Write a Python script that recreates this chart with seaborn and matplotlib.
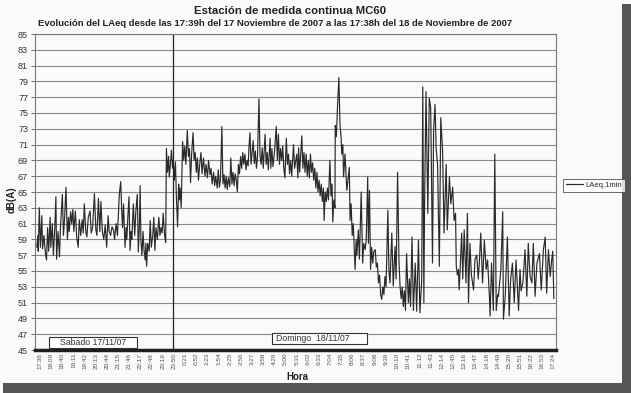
import numpy as np
import pandas as pd
import matplotlib
matplotlib.use("Agg")
import matplotlib.pyplot as plt
from matplotlib.patches import Rectangle
import seaborn as sns

# Minutos desde las 17:38 (etiqueta del primer tick) y nivel LAeq,1min
tarde_min = [-9, -6, -5, -2, 1, 5, 7, 11, 15, 18,
             21, 24, 28, 30, 34, 37, 41, 44, 46, 50,
             54, 57, 62, 65, 68, 72, 76, 79, 81, 85,
             88, 91, 94, 98, 102, 106, 109, 113, 117, 120,
             123, 127, 130, 134, 139, 142, 146, 151, 155, 158,
             162, 166, 169, 173, 177, 181, 185, 189, 192, 196,
             200, 204, 207, 211, 215, 218, 220, 224, 227, 229,
             232, 236, 239, 241, 244, 247, 250, 253, 255, 259,
             263, 266, 270, 273, 276, 278, 280, 283, 286, 289,
             292, 294, 296, 299, 303, 306, 309, 313, 316, 319,
             322, 326, 330, 333, 336, 339, 342, 346, 349]
tarde_db = [58.0, 59.5, 57.5, 63.0, 58.0, 62.0, 57.8, 59.5, 57.2, 56.4,
            60.5, 57.5, 61.8, 58.0, 61.0, 57.0, 60.5, 64.4, 56.5, 60.0,
            56.8, 60.8, 64.7, 59.5, 61.5, 65.6, 59.0, 61.8, 60.0, 62.5,
            61.0, 62.8, 60.0, 62.6, 59.2, 58.0, 61.5, 59.5, 61.5, 59.8,
            63.5, 60.0, 59.3, 61.8, 62.6, 59.8, 60.5, 64.8, 60.2, 59.5,
            64.2, 60.0, 63.8, 60.0, 59.0, 60.8, 58.0, 62.0, 60.0, 59.5,
            60.6, 60.2, 59.0, 61.0, 59.5, 62.5, 64.6, 66.3, 62.5, 60.5,
            63.5, 58.0, 60.5, 59.0, 62.0, 64.4, 57.6, 60.0, 59.0, 63.5,
            59.5, 62.5, 64.7, 57.4, 61.0, 65.8, 59.0, 57.0, 60.0, 57.5,
            56.4, 58.5, 55.6, 58.5, 57.5, 61.4, 58.0, 59.5, 61.8, 57.6,
            60.5, 59.0, 61.8, 59.5, 60.5, 59.8, 62.3, 59.5, 58.6]

noche_min = [351, 354, 357, 359, 362, 365, 368, 370, 373, 376,
             379, 382, 385, 387, 389, 392, 396, 399, 402, 405,
             409, 412, 415, 418, 421, 425, 428, 431, 434, 437,
             440, 444, 447, 450, 454, 458, 461, 465, 468, 472,
             475, 478, 482, 485, 488, 492, 495, 498, 501, 505,
             508, 511, 514, 517, 520, 523, 527, 530, 533, 536,
             539, 542, 545, 548, 551, 554, 557, 560, 563, 566,
             569, 572, 575, 578, 580, 583, 586, 589, 592, 595,
             598, 601, 604, 608, 611, 614, 617, 620, 625, 628,
             631, 634, 639, 641, 644, 647, 651, 656, 659, 662,
             665, 668, 671, 674, 677, 680, 684, 687, 690, 693,
             696, 699, 704, 707, 713, 716, 718, 721, 727, 730]
noche_db = [70.5, 67.5, 69.5, 66.9, 68.5, 70.3, 68.0, 69.0, 66.5, 68.8,
            64.0, 60.6, 66.0, 64.0, 65.5, 63.0, 71.4, 69.0, 70.8, 68.5,
            72.8, 69.5, 70.5, 66.2, 69.8, 72.5, 69.0, 70.0, 67.5, 69.3,
            66.5, 68.8, 70.0, 67.3, 69.3, 67.0, 68.5, 66.8, 69.0, 67.2,
            68.0, 66.0, 67.5, 65.8, 67.0, 65.5, 67.8, 65.6, 66.5, 73.3,
            66.0, 67.2, 65.5, 67.0, 65.3, 66.8, 65.7, 69.3, 66.0, 67.5,
            65.8, 67.3, 66.5, 65.0, 68.5, 67.3, 69.5, 68.0, 70.0, 68.5,
            69.8, 67.8, 69.0, 68.3, 70.5, 72.5, 68.5, 70.0, 71.5, 68.6,
            70.2, 68.0, 69.5, 76.8, 69.5, 68.5, 70.6, 68.0, 72.3, 68.5,
            70.0, 67.8, 71.8, 68.0, 70.5, 68.2, 70.0, 73.3, 69.0, 72.3,
            68.5, 70.5, 69.0, 70.8, 68.0, 66.8, 71.8, 68.5, 69.8, 67.3,
            69.0, 67.0, 71.0, 68.0, 69.8, 66.8, 70.6, 67.5, 72.1, 68.0]

manana_min = [733, 736, 739, 742, 745, 748, 751, 754, 757, 760,
              763, 766, 769, 772, 775, 778, 781, 784, 787, 789,
              792, 795, 798, 801, 805, 808, 811, 813, 816, 819,
              820, 823, 826, 830, 833, 836, 838, 841, 843, 847,
              852, 855, 859, 861, 864, 867, 870, 873, 875, 878,
              880, 884, 887, 892, 896, 899, 903, 906, 910, 912,
              915, 918, 921, 924, 927, 931, 934, 937, 940, 943,
              946, 949, 952, 955, 958, 961, 966, 969, 972, 977,
              981, 986, 989, 993, 997, 1000, 1003, 1006, 1009, 1012,
              1015, 1018, 1023, 1026, 1029, 1033, 1037, 1042, 1046, 1051,
              1055, 1060]
manana_db = [70.0, 67.5, 69.8, 67.0, 69.0, 66.8, 69.8, 67.5, 68.7, 66.5,
             68.0, 65.5, 67.5, 65.0, 66.5, 64.5, 66.0, 63.8, 65.5, 61.4,
             65.0, 63.8, 65.5, 64.0, 69.0, 64.5, 66.0, 61.2, 64.0, 63.0,
             73.4, 72.0, 75.6, 79.5, 73.6, 72.0, 69.8, 71.0, 66.9, 69.8,
             65.2, 66.5, 68.1, 61.4, 63.5, 59.5, 61.0, 57.5, 55.2, 59.0,
             57.0, 60.2, 56.5, 65.0, 56.0, 58.5, 57.7, 59.0, 66.9, 58.5,
             65.2, 55.2, 58.0, 56.0, 57.5, 57.7, 55.5, 56.0, 53.5, 54.5,
             52.0, 51.4, 53.0, 52.0, 54.3, 53.0, 62.7, 55.0, 53.5, 59.8,
             53.1, 58.1, 54.0, 67.5, 56.0, 53.0, 51.5, 53.0, 50.5, 52.5,
             50.0, 57.2, 51.0, 54.0, 50.5, 59.3, 50.0, 56.0, 49.9, 58.9,
             49.7, 53.8]

mediodia_min = [1063, 1066, 1068, 1072, 1077, 1081, 1085, 1090, 1093, 1097,
                1100, 1104, 1109, 1113, 1118, 1122, 1128, 1131, 1137, 1141,
                1146, 1150, 1154, 1156, 1159, 1162, 1164, 1167, 1171, 1174,
                1178, 1183, 1187, 1190, 1194, 1198, 1204, 1208, 1213, 1217,
                1220, 1224, 1229, 1234, 1239, 1243, 1248, 1250, 1254, 1259,
                1263, 1267, 1271, 1273, 1280, 1285, 1287, 1292, 1298, 1303,
                1307, 1312, 1317, 1322, 1329, 1333, 1336, 1341, 1347, 1352,
                1356, 1361, 1366, 1370, 1375, 1380, 1387, 1392, 1398, 1403,
                1407, 1412, 1417, 1421, 1424, 1427]
mediodia_db = [78.3, 51.0, 63.5, 77.7, 62.3, 76.9, 75.6, 56.0, 72.7, 76.1,
               70.6, 68.5, 55.6, 74.4, 70.2, 59.8, 68.5, 60.2, 66.9, 63.5,
               65.6, 61.4, 62.3, 55.6, 54.5, 55.2, 52.6, 55.5, 59.8, 54.0,
               60.2, 53.5, 62.3, 51.0, 58.5, 54.5, 52.6, 56.5, 57.0, 54.0,
               56.0, 59.8, 53.5, 58.9, 55.2, 56.4, 51.8, 49.3, 56.0, 50.0,
               69.8, 50.0, 52.0, 51.8, 55.2, 62.5, 48.9, 51.8, 59.3, 49.3,
               53.9, 56.0, 51.0, 56.4, 50.0, 55.2, 52.5, 53.5, 57.7, 51.8,
               58.5, 54.3, 53.5, 58.5, 51.8, 56.0, 57.2, 52.6, 57.7, 59.3,
               52.2, 57.7, 54.3, 56.4, 57.5, 51.5]

horas = ["17:38", "18:09", "18:40", "19:11", "19:42", "20:13", "20:44", "21:15",
         "21:46", "22:17", "22:48", "23:19", "23:50", "0:21", "0:52", "1:23",
         "1:54", "2:25", "2:56", "3:27", "3:58", "4:29", "5:00", "5:31", "6:02",
         "6:33", "7:04", "7:35", "8:06", "8:37", "9:08", "9:39", "10:10", "10:41",
         "11:12", "11:43", "12:14", "12:45", "13:16", "13:47", "14:18", "14:49",
         "15:20", "15:51", "16:22", "16:53", "17:24"]

df = pd.DataFrame({
    "minuto": tarde_min + noche_min + manana_min + mediodia_min,
    "LAeq,1min": tarde_db + noche_db + manana_db + mediodia_db,
})

sns.set_theme(style="white")
plt.rcParams["font.family"] = ["Liberation Sans", "DejaVu Sans"]

fig = plt.figure(figsize=(6.31, 3.93), dpi=100, facecolor="#fafafa")
ax = fig.add_axes([35 / 631, 43 / 393, 521 / 631, 316 / 393])
ax.set_facecolor("#fafafa")

sns.lineplot(data=df, x="minuto", y="LAeq,1min", ax=ax, estimator=None,
             color="#2a2a2a", linewidth=0.85, label="LAeq,1min")

# limite entre sabado y domingo
ax.axvline(368, color="#222222", linewidth=0.9)

ax.set_xlim(-14, 1433)
ax.set_ylim(45, 85)
ax.set_yticks(np.arange(45, 86, 2))
ax.set_xticks(np.arange(len(horas)) * 31)
ax.set_xticklabels(horas, rotation=90, fontsize=4.6, color="#555555")
ax.tick_params(axis="y", labelsize=6.5, labelcolor="#333333", length=3,
               width=0.6, color="#555555", left=True, pad=2)
ax.tick_params(axis="x", length=0, pad=2)
ax.grid(axis="y", color="#8a8a8a", linewidth=0.8)
ax.set_xlabel("")
ax.set_ylabel("")
for s in ["top", "right", "left"]:
    ax.spines[s].set_color("#777777")
    ax.spines[s].set_linewidth(0.8)
ax.spines["bottom"].set_color("#1e1e1e")
ax.spines["bottom"].set_linewidth(2.5)

# cuadros de dia
ax.add_patch(Rectangle((25, 45.25), 244, 1.4, facecolor="white",
                       edgecolor="#333333", linewidth=0.8, zorder=3))
ax.text(147, 45.95, "Sabado 17/11/07", ha="center", va="center",
        fontsize=6.3, color="#333333", zorder=4)
ax.add_patch(Rectangle((644, 45.7), 264, 1.5, facecolor="white",
                       edgecolor="#333333", linewidth=0.8, zorder=3))
ax.text(655, 46.45, "Domingo  18/11/07", ha="left", va="center",
        fontsize=6.3, color="#333333", zorder=4)

ax.get_legend().remove()
h, l = ax.get_legend_handles_labels()
leg = fig.legend(h, l, loc="lower left", bbox_to_anchor=(0.893, 0.512),
                 fontsize=5.5, frameon=True, fancybox=False, borderpad=0.35,
                 handlelength=2.2, handletextpad=0.3, borderaxespad=0)
leg.get_frame().set_edgecolor("#444444")
leg.get_frame().set_linewidth(0.7)
leg.get_frame().set_facecolor("white")

fig.text(290 / 631, 1 - 11 / 393, "Estación de medida continua MC60",
         ha="center", va="center", fontsize=8.2, fontweight="bold", color="#222222")
fig.text(275 / 631, 1 - 23 / 393,
         "Evolución del LAeq desde las 17:39h del 17 Noviembre de 2007 a las 17:38h del 18 de Noviembre de 2007",
         ha="center", va="center", fontsize=6.8, fontweight="bold", color="#222222")
fig.text(297 / 631, 1 - 377 / 393, "Hora", ha="center", va="center",
         fontsize=7, fontweight="bold", color="#222222")
fig.text(12 / 631, 1 - 200 / 393, "dB(A)", ha="center", va="center",
         rotation=90, fontsize=7, fontweight="bold", color="#222222")

# sombra del escaneo
fig.patches.append(Rectangle((622 / 631, 0), 9 / 631, 0.99, transform=fig.transFigure,
                             facecolor="#555555", edgecolor="none", zorder=0))
fig.patches.append(Rectangle((0.005, 0), 1, 10 / 393, transform=fig.transFigure,
                             facecolor="#555555", edgecolor="none", zorder=0))

fig.savefig("out.png", dpi=100, facecolor=fig.get_facecolor())
